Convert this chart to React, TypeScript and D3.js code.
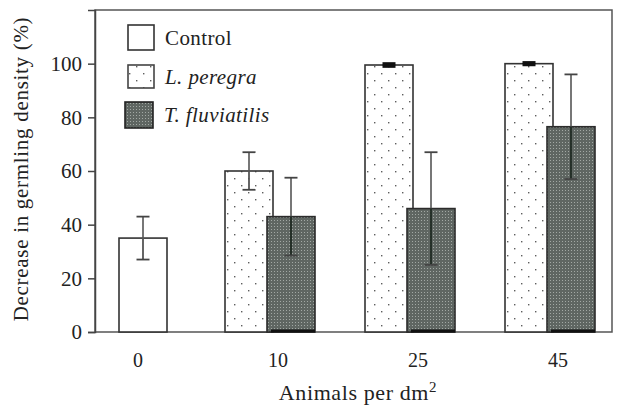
import { useEffect, useRef } from "react";
import * as d3 from "d3";

const categories = ["0", "10", "25", "45"];
const controlMean = [35, null, null, null];
const controlErr = [8, null, null, null];
const peregraMean = [null, 60, 99.5, 100];
const peregraErr = [null, 7, 0.5, 0.4];
const fluvMean = [null, 43, 46, 76.5];
const fluvErr = [null, 14.5, 21, 19.5];
const yTicks = [0, 20, 40, 60, 80, 100];

const W = 618;
const H = 406;
const FONT = "'Liberation Serif', 'Times New Roman', serif";

export default function App() {
  const svgRef = useRef<SVGSVGElement>(null);

  useEffect(() => {
    const svg = d3.select(svgRef.current);
    svg.selectAll("*").remove();

    const left = 95, right = 612, top = 10, bottom = 332;
    const x = d3.scalePoint<string>().domain(categories).range([130, 550]);
    const y = d3.scaleLinear().domain([0, 120]).range([bottom, top]);
    const bw = 48;

    const defs = svg.append("defs");
    const dots = defs.append("pattern").attr("id", "dots").attr("patternUnits", "userSpaceOnUse")
      .attr("width", 14).attr("height", 14);
    dots.append("rect").attr("width", 14).attr("height", 14).attr("fill", "#fff");
    dots.append("rect").attr("x", 3).attr("y", 3).attr("width", 1.4).attr("height", 1.4).attr("fill", "#5e5e5e");
    dots.append("rect").attr("x", 10).attr("y", 10).attr("width", 1.4).attr("height", 1.4).attr("fill", "#5e5e5e");

    const dark = defs.append("pattern").attr("id", "dark").attr("patternUnits", "userSpaceOnUse")
      .attr("width", 3).attr("height", 3);
    dark.append("rect").attr("width", 3).attr("height", 3).attr("fill", "#5f6662");
    dark.append("rect").attr("x", 1).attr("y", 1).attr("width", 1).attr("height", 1).attr("fill", "#a2a8a4");

    const g = svg.append("g");

    // frame
    g.append("rect").attr("x", left).attr("y", top).attr("width", right - left).attr("height", bottom - top)
      .attr("fill", "none").attr("stroke", "#555").attr("stroke-width", 1.5);

    // y axis
    const yAxis = g.append("g").attr("transform", `translate(${left},0)`)
      .call(d3.axisLeft(y).tickValues(yTicks).tickSize(7).tickPadding(6));
    yAxis.select(".domain").attr("stroke", "#444").attr("stroke-width", 1.5);
    yAxis.selectAll(".tick line").attr("stroke", "#444").attr("stroke-width", 1.5);
    yAxis.selectAll(".tick text").attr("font-family", FONT).attr("font-size", 21).attr("fill", "#222");

    // x labels
    g.selectAll("text.xlab").data(categories).join("text").classed("xlab", true)
      .attr("x", (d) => (x(d) as number) + 8).attr("y", 367)
      .attr("text-anchor", "middle").attr("font-family", FONT).attr("font-size", 20).attr("fill", "#222")
      .text((d) => d);

    const bars = [
      { mean: controlMean, err: controlErr, fill: "#fff", off: -11, stroke: "#333" },
      { mean: peregraMean, err: peregraErr, fill: "url(#dots)", off: -45, stroke: "#333" },
      { mean: fluvMean, err: fluvErr, fill: "url(#dark)", off: -3, stroke: "#2b2b2b" },
    ];

    bars.forEach((s) => {
      const rows = categories.map((c, i) => ({ c, v: s.mean[i], e: s.err[i] })).filter((r) => r.v != null);
      const bx = (r) => (x(r.c) as number) + s.off;
      g.selectAll(null).data(rows).join("rect")
        .attr("x", bx).attr("y", (r) => y(r.v)).attr("width", bw).attr("height", (r) => bottom - y(r.v))
        .attr("fill", s.fill).attr("stroke", s.stroke).attr("stroke-width", 1.6);

      if (s.fill === "url(#dark)") {
        g.selectAll(null).data(rows).join("line")
          .attr("x1", (r) => bx(r) + 4).attr("x2", (r) => bx(r) + bw)
          .attr("y1", bottom - 1).attr("y2", bottom - 1).attr("stroke", "#111").attr("stroke-width", 3);
      }

      const ex = (r) => bx(r) + bw / 2;
      const eb = g.selectAll(null).data(rows).join("g");
      eb.append("line").attr("x1", ex).attr("x2", ex)
        .attr("y1", (r) => y(r.v + r.e)).attr("y2", (r) => y(r.v)).attr("stroke", "#555").attr("stroke-width", 1.6);
      eb.append("line").attr("x1", ex).attr("x2", ex)
        .attr("y1", (r) => y(r.v)).attr("y2", (r) => y(r.v - r.e))
        .attr("stroke", s.fill === "url(#dark)" ? "#1e2a22" : "#555").attr("stroke-width", 1.8);
      [1, -1].forEach((k) => {
        eb.append("line").attr("x1", (r) => ex(r) - 6.5).attr("x2", (r) => ex(r) + 6.5)
          .attr("y1", (r) => y(r.v + k * r.e)).attr("y2", (r) => y(r.v + k * r.e))
          .attr("stroke", (r) => (r.e < 2 ? "#111" : "#444")).attr("stroke-width", (r) => (r.e < 2 ? 3 : 1.8));
      });
    });

    // legend
    const legend = [
      { label: "Control", fill: "#fff", italic: false, x: 128, y: 25, w: 26, h: 25, stroke: "#333" },
      { label: "L. peregra", fill: "url(#dots)", italic: true, x: 128, y: 65, w: 26, h: 23, stroke: "#444" },
      { label: "T. fluviatilis", fill: "url(#dark)", italic: true, x: 125, y: 102, w: 28, h: 26, stroke: "#222" },
    ];
    const lg = g.selectAll("g.leg").data(legend).join("g").classed("leg", true);
    lg.append("rect").attr("x", (d) => d.x).attr("y", (d) => d.y).attr("width", (d) => d.w).attr("height", (d) => d.h)
      .attr("fill", (d) => d.fill).attr("stroke", (d) => d.stroke).attr("stroke-width", 1.6);
    lg.append("text").attr("x", (d) => d.x + d.w + 11).attr("y", (d) => d.y + d.h / 2 + 7)
      .attr("font-family", FONT).attr("font-size", 21).attr("letter-spacing", 0.4).attr("fill", "#222")
      .attr("font-style", (d) => (d.italic ? "italic" : "normal")).text((d) => d.label);

    // titles
    g.append("text").attr("transform", "translate(28,169) rotate(-90)").attr("text-anchor", "middle")
      .attr("font-family", FONT).attr("font-size", 21).attr("letter-spacing", 0.7).attr("fill", "#222")
      .text("Decrease in germling density (%)");

    const xt = g.append("text").attr("x", 358).attr("y", 400).attr("text-anchor", "middle")
      .attr("font-family", FONT).attr("font-size", 22).attr("letter-spacing", 0.6).attr("fill", "#222");
    xt.append("tspan").text("Animals per dm");
    xt.append("tspan").attr("dy", -8).attr("font-size", 15).text("2");
  }, []);

  return (
    <div>
      <svg ref={svgRef} width={W} height={H}
        style={{ position: "absolute", left: 0, top: 0, background: "#fff" }} />
    </div>
  );
}
